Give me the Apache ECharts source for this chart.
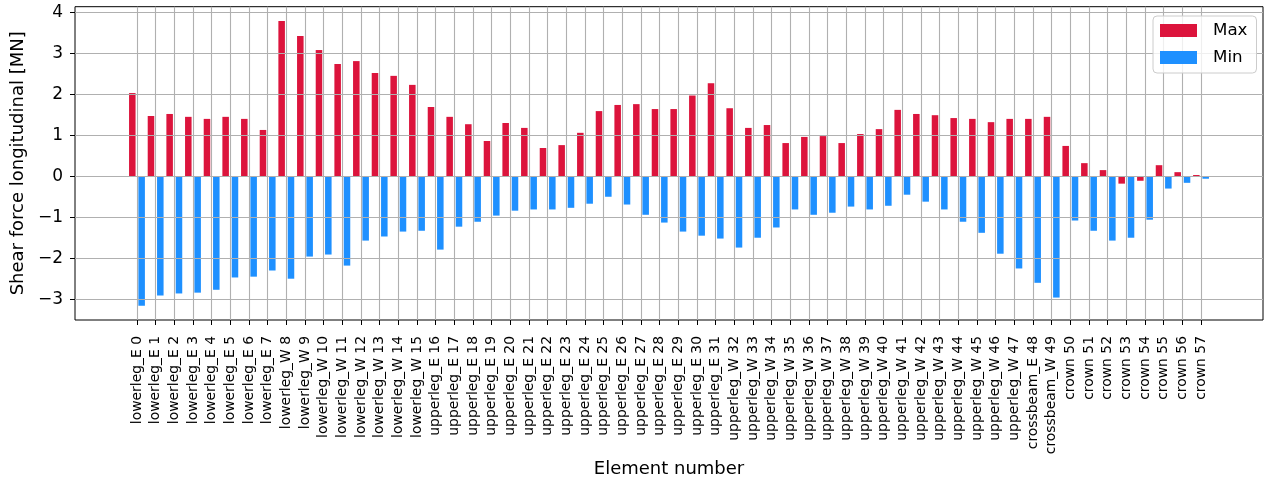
<!DOCTYPE html>
<html>
<head>
<meta charset="utf-8">
<script src="https://cdn.jsdelivr.net/npm/echarts@6/dist/echarts.min.js"></script>
<style>html,body{margin:0;padding:0;background:#fff}#c{width:1265px;height:484px}</style>
</head>
<body>
<div id="c"></div>
<script>
const categories = [
  'lowerleg_E 0','lowerleg_E 1','lowerleg_E 2','lowerleg_E 3','lowerleg_E 4','lowerleg_E 5','lowerleg_E 6','lowerleg_E 7',
  'lowerleg_W 8','lowerleg_W 9','lowerleg_W 10','lowerleg_W 11','lowerleg_W 12','lowerleg_W 13','lowerleg_W 14','lowerleg_W 15',
  'upperleg_E 16','upperleg_E 17','upperleg_E 18','upperleg_E 19','upperleg_E 20','upperleg_E 21','upperleg_E 22','upperleg_E 23',
  'upperleg_E 24','upperleg_E 25','upperleg_E 26','upperleg_E 27','upperleg_E 28','upperleg_E 29','upperleg_E 30','upperleg_E 31',
  'upperleg_W 32','upperleg_W 33','upperleg_W 34','upperleg_W 35','upperleg_W 36','upperleg_W 37','upperleg_W 38','upperleg_W 39',
  'upperleg_W 40','upperleg_W 41','upperleg_W 42','upperleg_W 43','upperleg_W 44','upperleg_W 45','upperleg_W 46','upperleg_W 47',
  'crossbeam_E 48','crossbeam_W 49','crown 50','crown 51','crown 52','crown 53','crown 54','crown 55','crown 56','crown 57'
];
const maxValues = [
  2.04, 1.48, 1.53, 1.46, 1.41, 1.46, 1.41, 1.14,
  3.80, 3.43, 3.09, 2.75, 2.82, 2.53, 2.46, 2.24,
  1.70, 1.46, 1.28, 0.87, 1.31, 1.19, 0.70, 0.77,
  1.07, 1.60, 1.75, 1.77, 1.65, 1.65, 1.98, 2.28,
  1.67, 1.19, 1.26, 0.82, 0.97, 0.99, 0.82, 1.04,
  1.16, 1.63, 1.53, 1.50, 1.43, 1.41, 1.33, 1.41,
  1.41, 1.46, 0.75, 0.33, 0.16, -0.17, -0.10, 0.28, 0.11, 0.04
];
const minValues = [
  -3.15, -2.90, -2.85, -2.83, -2.76, -2.46, -2.44, -2.29,
  -2.49, -1.95, -1.90, -2.17, -1.56, -1.46, -1.34, -1.32,
  -1.78, -1.22, -1.10, -0.95, -0.83, -0.80, -0.80, -0.76,
  -0.66, -0.49, -0.68, -0.93, -1.12, -1.34, -1.44, -1.51,
  -1.73, -1.49, -1.24, -0.80, -0.93, -0.88, -0.73, -0.80,
  -0.71, -0.44, -0.61, -0.80, -1.10, -1.37, -1.88, -2.24,
  -2.59, -2.95, -1.07, -1.32, -1.56, -1.49, -1.05, -0.29, -0.15, -0.05
];
const yTicks = { min: -3, max: 4, step: 1 };
const seriesNames = ['Max', 'Min'];

const FONT = 'DejaVu Sans';
const GRID_COLOR = '#b0b0b0';
const chart = echarts.init(document.getElementById('c'), null, { renderer: 'canvas' });

const minus = v => (v < 0 ? '\u2212' + Math.abs(v) : String(v));
const hidden = { axisLine: { show: false }, axisTick: { show: false }, axisLabel: { show: false }, splitLine: { show: false } };

chart.setOption({
  animation: false,
  backgroundColor: '#fff',
  textStyle: { fontFamily: FONT },
  grid: [
    { left: 75, right: 2, top: 6.7, bottom: 164, show: true, borderColor: '#000', borderWidth: 1, backgroundColor: 'transparent', z: 0 },
    { left: 136.97, right: 64, top: 6.7, bottom: 164 },
    { left: 75, right: 2, top: 12.74, bottom: 184.4 }
  ],
  legend: {
    data: seriesNames,
    orient: 'vertical',
    left: 1153, top: 16,
    padding: [6, 9, 7, 7],
    itemWidth: 37, itemHeight: 13, itemGap: 10,
    icon: 'rect',
    backgroundColor: 'rgba(255,255,255,0.8)',
    borderColor: '#cccccc', borderWidth: 1, borderRadius: 4,
    textStyle: { fontFamily: FONT, fontSize: 16.7, color: '#000', padding: [0, 0, 0, 11] },
    z: 10
  },
  xAxis: [
    Object.assign({
      type: 'value', gridIndex: 0, min: -3.32, max: 60.32,
      name: 'Element number', nameLocation: 'middle', nameGap: 140,
      nameTextStyle: { fontFamily: FONT, fontSize: 18, color: '#000' }
    }, hidden),
    {
      type: 'category', gridIndex: 1, data: categories, boundaryGap: false, z: 3,
      axisLine: { show: false },
      axisTick: { show: true, interval: 0, length: 5, lineStyle: { color: '#000', width: 1 } },
      axisLabel: { interval: 0, rotate: 90, margin: 16, fontFamily: FONT, fontSize: 13.9, color: '#000' },
      splitLine: { show: true, interval: 0, lineStyle: { color: GRID_COLOR, width: 1.1 } }
    },
    Object.assign({ type: 'value', gridIndex: 2, min: 0, max: 1 }, hidden)
  ],
  yAxis: [
    Object.assign({
      type: 'value', gridIndex: 0, min: -3.4975, max: 4.1475,
      name: 'Shear force longitudinal [MN]', nameLocation: 'middle', nameGap: 48,
      nameTextStyle: { fontFamily: FONT, fontSize: 18, color: '#000' }
    }, hidden),
    {
      type: 'value', gridIndex: 2, min: yTicks.min, max: yTicks.max, interval: yTicks.step, z: 3,
      axisLine: { show: false },
      axisTick: { show: true, length: 5, lineStyle: { color: '#000', width: 1 } },
      axisLabel: { margin: 12, fontFamily: FONT, fontSize: 17, color: '#000', formatter: minus },
      splitLine: { show: true, lineStyle: { color: GRID_COLOR, width: 1.1 } }
    },
    Object.assign({ type: 'value', gridIndex: 1, min: 0, max: 1 }, hidden)
  ],
  series: [
    {
      name: seriesNames[0], type: 'bar', xAxisIndex: 0, yAxisIndex: 0,
      data: maxValues.map((v, i) => [i, v]),
      barWidth: 6.53, barGap: '43%',
      itemStyle: { color: '#DC143C' }, z: 2
    },
    {
      name: seriesNames[1], type: 'bar', xAxisIndex: 0, yAxisIndex: 0,
      data: minValues.map((v, i) => [i, v]),
      barWidth: 6.53, barGap: '43%',
      itemStyle: { color: '#1E90FF' }, z: 2
    }
  ]
});
</script>
</body>
</html>
